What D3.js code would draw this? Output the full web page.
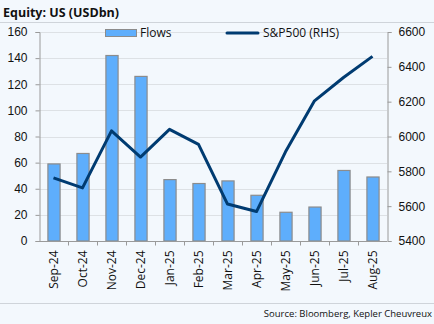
<!DOCTYPE html>
<html>
<head>
<meta charset="utf-8">
<script src="https://cdn.jsdelivr.net/npm/d3@7"></script>
<style>
  body { margin: 0; background: #f3f8fd; }
  svg { display: block; font-family: "Open Sans", "Noto Sans", sans-serif; }
</style>
</head>
<body>
<script>
// monthly data
const months = ["Sep-24", "Oct-24", "Nov-24", "Dec-24", "Jan-25", "Feb-25", "Mar-25", "Apr-25", "May-25", "Jun-25", "Jul-25", "Aug-25"]
const flows = [59, 67, 142, 126, 47, 44, 46, 35, 22, 26, 54, 49]
const spx = [5762, 5705, 6032, 5882, 6041, 5955, 5612, 5569, 5912, 6205, 6339, 6460]
const leftTicks = [0, 20, 40, 60, 80, 100, 120, 140, 160]
const rightTicks = [5400, 5600, 5800, 6000, 6200, 6400, 6600]

const width = 434, height = 324
const marginLeft = 39, marginRight = 47, marginTop = 32, marginBottom = 83

const barColor = "#5eaefc"
const barStroke = "#8c8c8c"
const lineColor = "#003b71"
const gridColor = "#dde1e5"
const axisColor = "#9a9a9a"

const svg = d3.select("body").append("svg")
    .attr("width", width)
    .attr("height", height)

const x = d3.scaleBand().domain(months).range([marginLeft, width - marginRight]).paddingInner(0.58).paddingOuter(0.29)
const xCell = d3.scaleBand().domain(months).range([marginLeft, width - marginRight])
const yL = d3.scaleLinear().domain([0, 160]).range([height - marginBottom, marginTop])
const yR = d3.scaleLinear().domain([5400, 6600]).range([height - marginBottom, marginTop])

// title + separators
svg.append("text")
    .attr("x", 3).attr("y", 17)
    .attr("font-size", 12.5).attr("font-weight", "bold").attr("fill", "#111")
    .text("Equity: US (USDbn)")
svg.append("line").attr("x1", 0).attr("x2", width).attr("y1", 22.5).attr("y2", 22.5).attr("stroke", "#cfd4da")
svg.append("line").attr("x1", 0).attr("x2", width).attr("y1", 303.5).attr("y2", 303.5).attr("stroke", "#cfd4da")

// gridlines
svg.append("g")
    .selectAll("line")
    .data(leftTicks.slice(1))
    .join("line")
    .attr("x1", marginLeft).attr("x2", width - marginRight)
    .attr("y1", d => Math.round(yL(d)) + 0.5).attr("y2", d => Math.round(yL(d)) + 0.5)
    .attr("stroke", gridColor)

// left axis
svg.append("g")
    .attr("transform", `translate(${marginLeft + 0.5},0)`)
    .call(d3.axisLeft(yL).tickValues(leftTicks).tickSizeOuter(0).tickSize(4).tickPadding(8))
    .call(g => g.selectAll(".domain, .tick line").attr("stroke", axisColor))
    .call(g => g.selectAll("text").attr("font-size", 12).attr("fill", "#111").attr("font-family", null))

// right axis
svg.append("g")
    .attr("transform", `translate(${width - marginRight + 0.5},0)`)
    .call(d3.axisRight(yR).tickValues(rightTicks).tickFormat(d3.format("d")).tickSizeOuter(0).tickSize(4).tickPadding(7))
    .call(g => g.selectAll(".domain, .tick line").attr("stroke", axisColor))
    .call(g => g.selectAll("text").attr("font-size", 12).attr("fill", "#111").attr("font-family", null))

// bars
svg.append("g")
    .selectAll("rect")
    .data(months)
    .join("rect")
    .attr("x", (d, i) => x(d) + 0.5)
    .attr("y", (d, i) => yL(flows[i]))
    .attr("width", x.bandwidth())
    .attr("height", (d, i) => yL(0) - yL(flows[i]))
    .attr("fill", barColor)
    .attr("stroke", barStroke)
    .attr("stroke-width", 1.2)

// x axis with ticks at cell boundaries
const xAxisG = svg.append("g")
    .attr("transform", `translate(0,${Math.round(yL(0)) + 0.5})`)
xAxisG.append("line")
    .attr("x1", marginLeft).attr("x2", width - marginRight)
    .attr("stroke", axisColor)
xAxisG.selectAll(".bnd")
    .data(months.slice(1))
    .join("line")
    .attr("x1", d => Math.round(xCell(d)) + 0.5).attr("x2", d => Math.round(xCell(d)) + 0.5)
    .attr("y1", 0).attr("y2", 4)
    .attr("stroke", axisColor)
xAxisG.selectAll("text")
    .data(months)
    .join("text")
    .attr("transform", d => `translate(${xCell(d) + xCell.bandwidth() / 2 + 4},9) rotate(-90)`)
    .attr("text-anchor", "end")
    .attr("font-size", 12)
    .attr("fill", "#111")
    .text(d => d)

// S&P line
const line = d3.line()
    .x((d, i) => xCell(months[i]) + xCell.bandwidth() / 2)
    .y(d => yR(d))
svg.append("path")
    .datum(spx)
    .attr("d", line)
    .attr("fill", "none")
    .attr("stroke", lineColor)
    .attr("stroke-width", 3)
    .attr("stroke-linejoin", "round")

// legend
const lg = svg.append("g")
lg.append("rect").attr("x", 105.5).attr("y", 29.5).attr("width", 31).attr("height", 7)
    .attr("fill", barColor).attr("stroke", barStroke)
lg.append("text").attr("x", 140).attr("y", 37).attr("font-size", 12).attr("fill", "#111").text("Flows")
lg.append("line").attr("x1", 227).attr("x2", 258).attr("y1", 33).attr("y2", 33)
    .attr("stroke", lineColor).attr("stroke-width", 3).attr("stroke-linecap", "round")
lg.append("text").attr("x", 263).attr("y", 37).attr("font-size", 12).attr("fill", "#111").text("S&P500 (RHS)")

// source note
svg.append("text")
    .attr("x", width - 2).attr("y", 317)
    .attr("text-anchor", "end")
    .attr("font-size", 9.5).attr("fill", "#111")
    .text("Source: Bloomberg, Kepler Cheuvreux")
</script>
</body>
</html>
